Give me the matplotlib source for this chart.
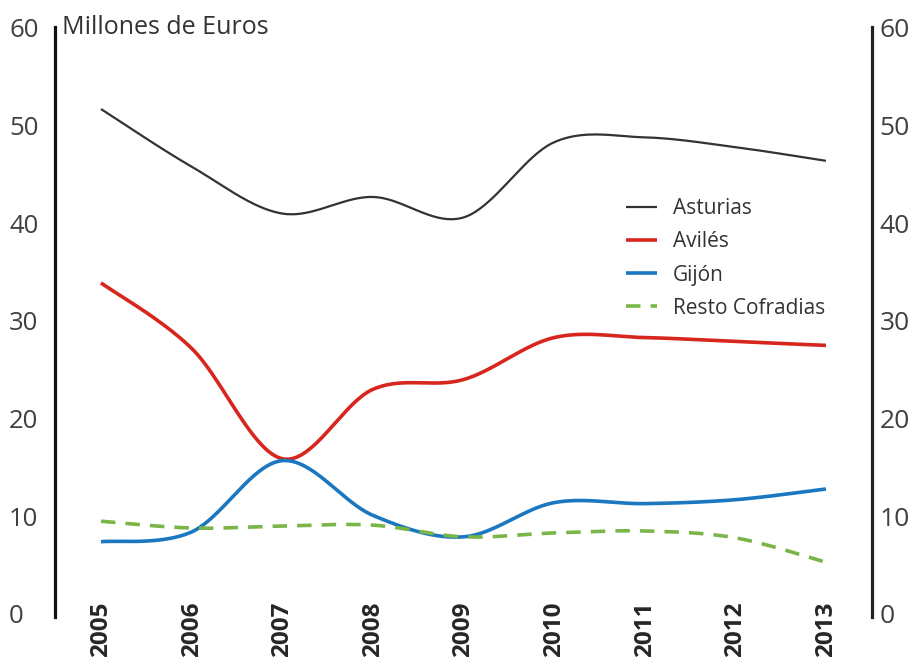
import numpy as np
import matplotlib
matplotlib.use('Agg')
import matplotlib.pyplot as plt

# data (millones de euros)
years = [2005, 2006, 2007, 2008, 2009, 2010, 2011, 2012, 2013]
asturias = [51.7, 45.8, 41.0, 42.7, 40.6, 48.3, 48.8, 47.8, 46.4]
aviles = [33.9, 27.2, 15.9, 23.0, 24.0, 28.3, 28.3, 27.9, 27.5]
gijon = [7.4, 8.4, 15.7, 10.1, 7.9, 11.4, 11.3, 11.7, 12.8]
resto = [9.5, 8.8, 9.0, 9.1, 7.9, 8.3, 8.5, 7.8, 5.3]

yticks = [0, 10, 20, 30, 40, 50, 60]

plt.rcParams['font.family'] = ['Open Sans', 'DejaVu Sans']


def smooth(x, y, n=40):
    # Catmull-Rom curve through the points, like a spreadsheet "smoothed line"
    p = np.column_stack([x, y]).astype(float)
    p = np.vstack([p[0], p, p[-1]])
    out = []
    t = np.linspace(0, 1, n)[:, None]
    for i in range(1, len(p) - 2):
        p0, p1, p2, p3 = p[i - 1], p[i], p[i + 1], p[i + 2]
        c1 = p1 + (p2 - p0) / 6
        c2 = p2 - (p3 - p1) / 6
        seg = ((1 - t) ** 3) * p1 + 3 * ((1 - t) ** 2) * t * c1 + 3 * (1 - t) * t ** 2 * c2 + t ** 3 * p2
        out.append(seg if i == 1 else seg[1:])
    out = np.vstack(out)
    return out[:, 0], out[:, 1]


fig = plt.figure(figsize=(9.1, 6.62), dpi=100)
ax = fig.add_axes([0.0604, 0.068, 0.8978, 0.8912])

series = [
    ('Asturias', asturias, '#333333', 1.6, '-'),
    ('Avilés', aviles, '#d7261e', 2.6, '-'),
    ('Gijón', gijon, '#1b78c0', 2.6, '-'),
    ('Resto Cofradias', resto, '#7ab547', 2.6, (0, (4, 2.8))),
]
for name, vals, col, lw, ls in series:
    sx, sy = smooth(years, vals)
    ax.plot(sx, sy, color=col, lw=lw, ls=ls, label=name, solid_capstyle='butt')

ax.set_xlim(2004.492, 2013.508)
ax.set_ylim(-0.307, 60.1)

for s in ['top', 'bottom', 'right']:
    ax.spines[s].set_visible(False)
ax.spines['left'].set_linewidth(2.3)
ax.spines['left'].set_color('#111111')

ax.set_xticks(years)
ax.set_xticklabels([str(y) for y in years], rotation=90, fontsize=17.5,
                   fontweight='bold', color='#262626')
ax.tick_params(axis='x', length=0, pad=-11)

ax.set_yticks(yticks)
ax.set_yticklabels([str(v) for v in yticks], fontsize=18.5, color='#404040', ha='left')
ax.tick_params(axis='y', length=0, pad=33)

ax2 = ax.twinx()
ax2.set_ylim(ax.get_ylim())
for s in ['top', 'bottom', 'left']:
    ax2.spines[s].set_visible(False)
ax2.spines['right'].set_linewidth(2.3)
ax2.spines['right'].set_color('#222222')
ax2.set_yticks(yticks)
ax2.set_yticklabels([str(v) for v in yticks], fontsize=19, color='#404040')
ax2.tick_params(axis='y', length=0, pad=5.5)

fig.text(62 / 910, 1 - 28 / 662, 'Millones de Euros', fontsize=18,
         color='#333333', va='center', ha='left')

leg = ax.legend(loc='upper left', bbox_to_anchor=(618 / 910, 1 - 190 / 662),
                bbox_transform=fig.transFigure, frameon=False, fontsize=15,
                handlelength=1.45, handletextpad=0.8, labelspacing=0.58,
                borderaxespad=0)
for t in leg.get_texts():
    t.set_color('#333333')

fig.savefig('out.png', dpi=100)
